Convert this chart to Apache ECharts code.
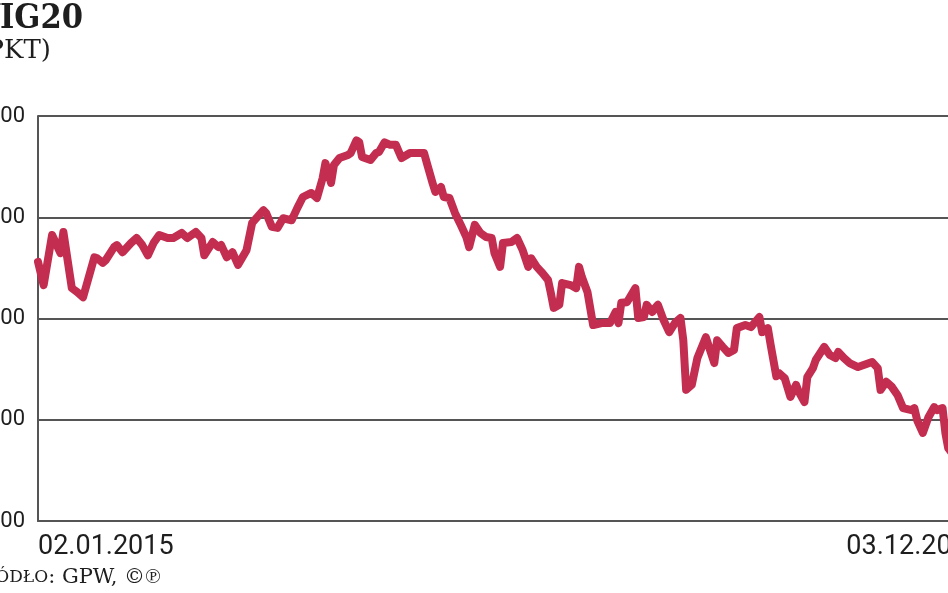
<!DOCTYPE html>
<html>
<head>
<meta charset="utf-8">
<script src="https://cdn.jsdelivr.net/npm/echarts@6/dist/echarts.min.js"></script>
<style>
html,body{margin:0;padding:0;background:#fff;}
#chart{width:948px;height:593px;}
</style>
</head>
<body>
<div id="chart"></div>
<script>
// Day offsets from 02.01.2015 and WIG20 closing values (points)
const days = [0,2,5,8,9,12,14,16,20,21,23,24,27,28,30,33,35,37,39,41,43,46,48,51,53,56,58,59,62,64,
65,67,69,71,74,76,80,81,83,85,87,90,92,94,97,99,101,102,104,105,107,110,111,113,114,115,118,120,121,123,
125,127,129,132,136,137,138,140,141,143,144,146,148,150,152,153,155,157,159,161,162,164,165,168,170,172,174,175,177,179,
181,182,183,185,186,189,191,192,193,195,197,200,203,205,206,207,209,212,213,215,216,218,219,220,222,224,226,228,229,230,
232,234,237,240,241,243,245,247,248,251,253,256,257,259,260,262,263,265,267,269,270,272,273,275,276,279,281,283,284,286,
288,291,293,296,298,299,301,303,305,307,310,311,312,314,316,318,319,321,322,323,326,329,332,335];
const values = [2312,2266,2365,2329,2371,2260,2252,2242,2321,2319,2310,2315,2341,2345,2331,2349,2359,2345,2325,2349,
2365,2359,2359,2369,2359,2371,2359,2325,2351,2341,
2345,2321,2331,2306,2335,2389,2414,2408,2381,2379,2398,2394,2418,2440,2448,2438,2477,2507,2468,2503,
2517,2523,2527,2552,2548,2519,2513,2527,2529,2548,
2543,2543,2517,2527,2527,2527,2507,2468,2450,2460,2440,2438,2408,2385,2361,2341,2385,2369,2361,2359,
2329,2302,2349,2351,2359,2335,2302,2319,2302,2290,
2276,2250,2221,2227,2270,2266,2260,2302,2282,2252,2187,2191,2191,2213,2191,2231,2232,2260,2201,2203,
2227,2213,2221,2227,2197,2173,2191,2201,2157,2059,
2069,2122,2163,2112,2157,2144,2132,2138,2181,2187,2183,2203,2173,2181,2148,2086,2092,2082,2045,2069,
2055,2035,2084,2102,2118,2144,2128,2122,2134,2122,
2112,2104,2108,2114,2102,2059,2075,2065,2049,2023,2019,2023,1999,1974,2005,2025,2019,2023,1974,1944,
1922,1905,1915,1898];
const xTickLabels = ['02.01.2015', '03.12.2015'];
const yTicks = [1800, 2000, 2200, 2400, 2600];
const titleText = 'WIG20';
const unitText = '(PKT)';

const seriesData = days.map((d, i) => [d, values[i]]);

const chart = echarts.init(document.getElementById('chart'), null, {renderer: 'canvas'});
chart.setOption({
  animation: false,
  backgroundColor: '#fff',
  grid: {left: 38, top: 116, bottom: 72, right: -34, containLabel: false, outerBoundsMode: 'none'},
  xAxis: {
    type: 'value',
    min: days[0],
    max: days[days.length - 1],
    interval: days[days.length - 1] - days[0],
    axisLine: {show: true, lineStyle: {color: '#555', width: 2}},
    axisTick: {show: false},
    splitLine: {show: false},
    axisLabel: {
      show: true,
      showMinLabel: true,
      showMaxLabel: true,
      alignMinLabel: 'left',
      alignMaxLabel: 'right',
      margin: 13,
      color: '#1e1e1e',
      fontFamily: 'Roboto, sans-serif',
      fontSize: 27,
      formatter: (v) => v === days[0] ? xTickLabels[0] : xTickLabels[1]
    }
  },
  yAxis: {
    type: 'value',
    min: yTicks[0],
    max: yTicks[yTicks.length - 1],
    interval: 200,
    axisLine: {show: true, lineStyle: {color: '#555', width: 2}},
    axisTick: {show: false},
    splitLine: {show: true, lineStyle: {color: '#555', width: 2}},
    axisLabel: {
      margin: 13,
      color: '#1e1e1e',
      fontFamily: 'Roboto, "Open Sans", sans-serif',
      fontSize: 22,
      formatter: (v) => String(v)
    }
  },
  series: [{
    type: 'line',
    data: seriesData,
    symbol: 'none',
    smooth: false,
    lineStyle: {color: '#c22d50', width: 8, cap: 'round', join: 'round'},
    z: 3
  }],
  graphic: [
    {type: 'text', x: 83, y: 2, style: {text: titleText, textAlign: 'right', font: 'bold 34px "DejaVu Serif Condensed", "DejaVu Serif", serif', fill: '#1e1e1e'}},
    {type: 'text', x: 51, y: 38, style: {text: unitText, textAlign: 'right', font: '26px "DejaVu Serif", serif', fill: '#1e1e1e'}},
    {type: 'text', x: 161, y: 567, style: {
      text: '{sc|ŹRÓDŁO}{n|: GPW, ©℗}',
      textAlign: 'right',
      rich: {
        sc: {fontFamily: '"DejaVu Serif", serif', fontSize: 17, fill: '#1e1e1e'},
        n: {fontFamily: '"DejaVu Serif", serif', fontSize: 21, fill: '#1e1e1e'}
      }
    }}
  ]
});
</script>
</body>
</html>
